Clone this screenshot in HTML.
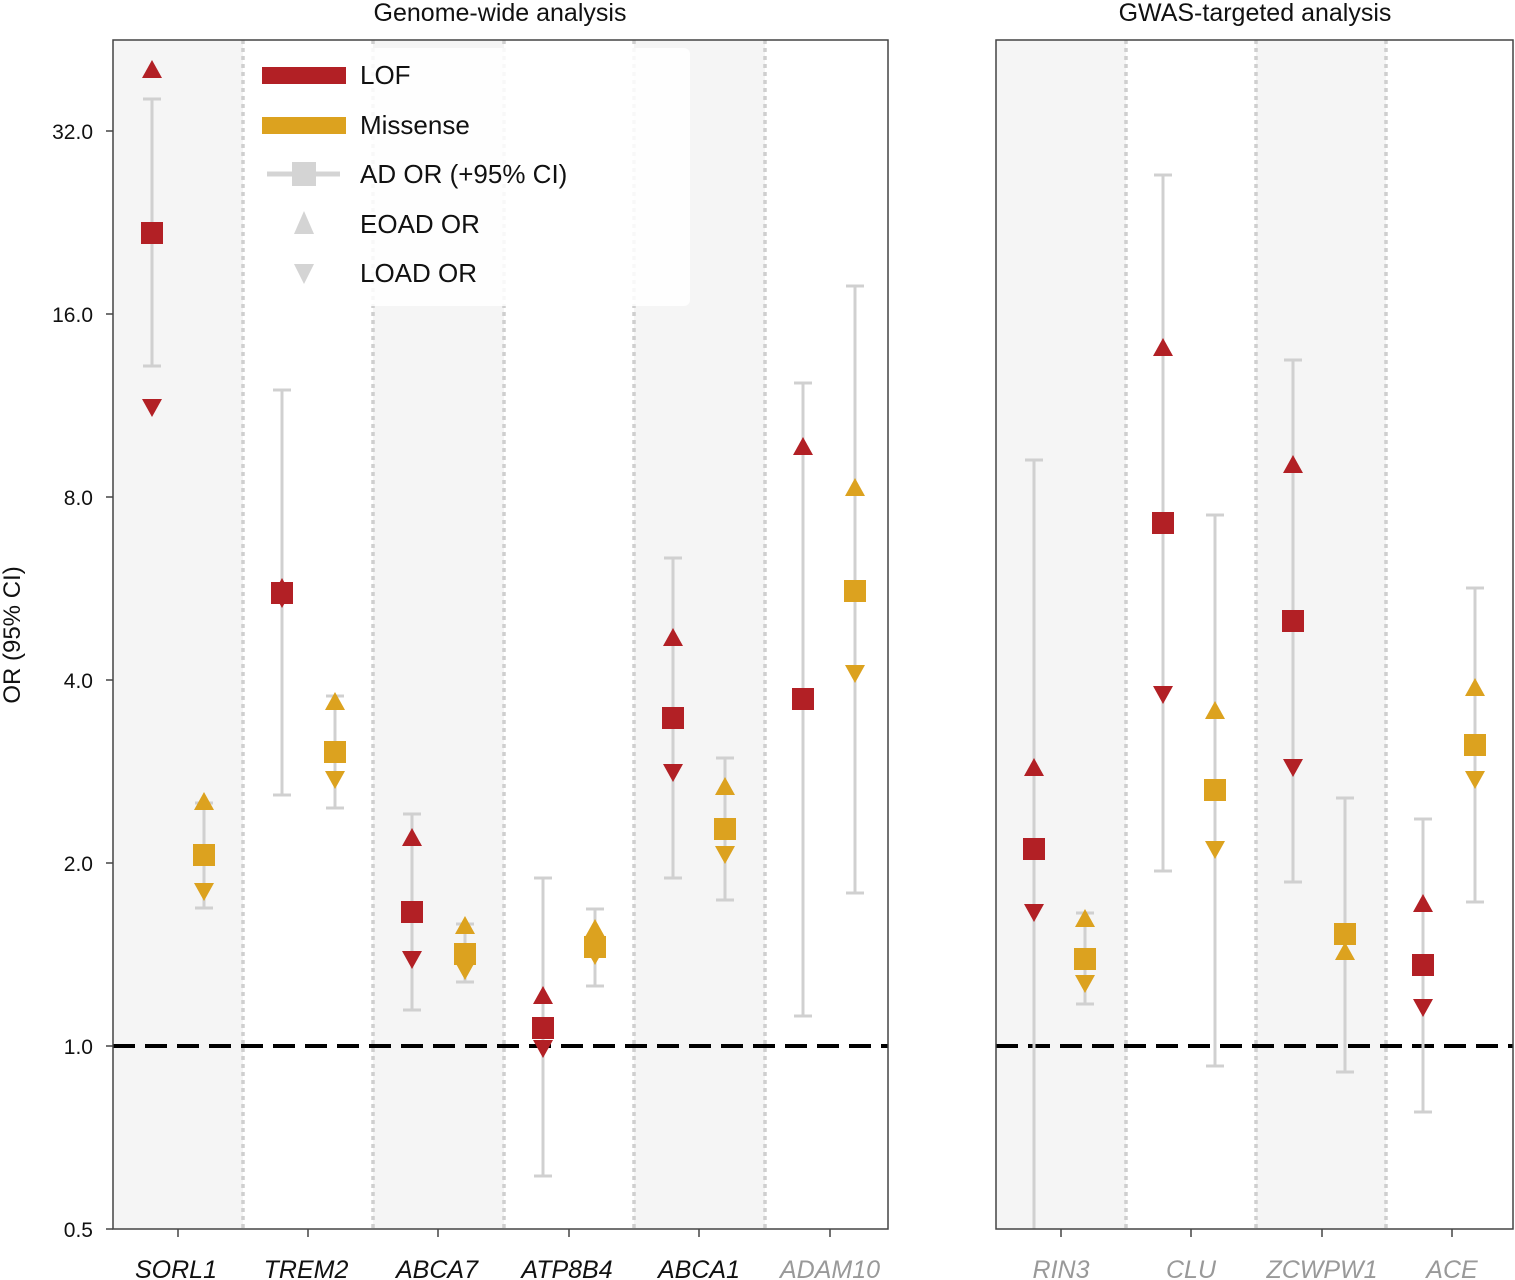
<!DOCTYPE html>
<html><head><meta charset="utf-8"><style>
html,body{margin:0;padding:0;background:#fff;}
svg{display:block;font-family:"Liberation Sans",sans-serif;}
</style></head><body>
<svg width="1515" height="1280" viewBox="0 0 1515 1280">
<rect x="113" y="40" width="130" height="1189" fill="#f5f5f5"/>
<rect x="373" y="40" width="131" height="1189" fill="#f5f5f5"/>
<rect x="634" y="40" width="131" height="1189" fill="#f5f5f5"/>
<rect x="996" y="40" width="130" height="1189" fill="#f5f5f5"/>
<rect x="1256" y="40" width="130" height="1189" fill="#f5f5f5"/>
<g stroke="#cfcfcf" stroke-width="3.5" stroke-dasharray="4 4">
<line x1="243" y1="40" x2="243" y2="1229"/><line x1="373" y1="40" x2="373" y2="1229"/>
<line x1="504" y1="40" x2="504" y2="1229"/><line x1="634" y1="40" x2="634" y2="1229"/>
<line x1="765" y1="40" x2="765" y2="1229"/>
<line x1="1126" y1="40" x2="1126" y2="1229"/><line x1="1256" y1="40" x2="1256" y2="1229"/>
<line x1="1386" y1="40" x2="1386" y2="1229"/>
</g>
<line x1="113" y1="1046" x2="888" y2="1046" stroke="#000" stroke-width="4" stroke-dasharray="22 10"/>
<line x1="996" y1="1046" x2="1513" y2="1046" stroke="#000" stroke-width="4" stroke-dasharray="22 10"/>
<g id="data"></g>
<rect x="250" y="48" width="440" height="258" rx="6" fill="#fff" fill-opacity="0.85"/>
<rect x="262" y="67" width="84" height="17" fill="#b22025"/>
<rect x="262" y="117" width="84" height="17" fill="#dca21f"/>
<line x1="267" y1="174" x2="340" y2="174" stroke="#d4d4d4" stroke-width="5"/>
<rect x="292" y="162" width="24" height="24" fill="#d4d4d4"/>
<polygon points="304,211 314,234 294,234" fill="#d4d4d4"/>
<polygon points="304,284 314,264 294,264" fill="#d4d4d4"/>
<g font-size="26" fill="#111">
<text x="360" y="84">LOF</text><text x="360" y="134">Missense</text>
<text x="360" y="183">AD OR (+95% CI)</text><text x="360" y="233">EOAD OR</text>
<text x="360" y="282">LOAD OR</text>
</g>
<rect x="113" y="40" width="775" height="1189" fill="none" stroke="#444" stroke-width="1.5"/>
<rect x="996" y="40" width="517" height="1189" fill="none" stroke="#444" stroke-width="1.5"/>
<g stroke="#444" stroke-width="1.5">
<line x1="106" y1="131" x2="113" y2="131"/><line x1="106" y1="314" x2="113" y2="314"/>
<line x1="106" y1="497" x2="113" y2="497"/><line x1="106" y1="680" x2="113" y2="680"/>
<line x1="106" y1="863" x2="113" y2="863"/><line x1="106" y1="1046" x2="113" y2="1046"/>
<line x1="106" y1="1229" x2="113" y2="1229"/>
<line x1="178" y1="1229" x2="178" y2="1237"/><line x1="308" y1="1229" x2="308" y2="1237"/>
<line x1="438" y1="1229" x2="438" y2="1237"/><line x1="569" y1="1229" x2="569" y2="1237"/>
<line x1="699" y1="1229" x2="699" y2="1237"/><line x1="830" y1="1229" x2="830" y2="1237"/>
<line x1="1061" y1="1229" x2="1061" y2="1237"/><line x1="1191" y1="1229" x2="1191" y2="1237"/>
<line x1="1322" y1="1229" x2="1322" y2="1237"/><line x1="1452" y1="1229" x2="1452" y2="1237"/>
</g>
<g font-size="21" fill="#111" text-anchor="end">
<text x="93" y="139">32.0</text><text x="93" y="322">16.0</text><text x="93" y="505">8.0</text>
<text x="93" y="688">4.0</text><text x="93" y="871">2.0</text><text x="93" y="1054">1.0</text>
<text x="93" y="1237">0.5</text>
</g>
<text transform="translate(20,635) rotate(-90)" font-size="24" text-anchor="middle" fill="#111">OR (95% CI)</text>
<g font-size="25" text-anchor="middle" fill="#111">
<text x="500" y="21">Genome-wide analysis</text><text x="1255" y="21">GWAS-targeted analysis</text>
</g>
<g font-size="25" font-style="italic" text-anchor="middle" fill="#111">
<text x="176" y="1278">SORL1</text><text x="306" y="1278">TREM2</text><text x="437" y="1278">ABCA7</text>
<text x="567" y="1278">ATP8B4</text><text x="699" y="1278">ABCA1</text>
<text x="830" y="1278" fill="#999">ADAM10</text>
<text x="1061" y="1278" fill="#999">RIN3</text><text x="1191" y="1278" fill="#999">CLU</text>
<text x="1322" y="1278" fill="#999">ZCWPW1</text><text x="1452" y="1278" fill="#999">ACE</text>
</g>
</svg>
<script>
var d=[
[152,233,99,366,70,407,'r'],[204,855,803,908,802,891,'g'],
[282,593,390,795,588,598,'r'],[335,752,696,808,702,779,'g'],
[412,912,814,1010,838,959,'r'],[465,954,924,982,926,970,'g'],
[543,1028,878,1176,996,1048,'r'],[595,947,909,986,929,955,'g'],
[673,718,558,878,638,772,'r'],[725,829,758,900,787,854,'g'],
[803,699,383,1016,447,null,'r'],[855,591,286,893,488,673,'g'],
[1034,849,460,1229,768,912,'r'],[1085,959,913,1004,919,983,'g'],
[1163,523,175,871,348,694,'r'],[1215,790,515,1066,711,849,'g'],
[1293,621,360,882,465,767,'r'],[1345,934,798,1072,952,null,'g'],
[1423,965,819,1112,904,1007,'r'],[1475,745,588,902,688,779,'g']];
var s='';
d.forEach(function(p){var x=p[0],c=p[6]=='r'?'#b22025':'#dca21f';
s+='<line x1="'+x+'" y1="'+p[2]+'" x2="'+x+'" y2="'+p[3]+'" stroke="#d0d0d0" stroke-width="3"/>';
s+='<line x1="'+(x-9)+'" y1="'+p[2]+'" x2="'+(x+9)+'" y2="'+p[2]+'" stroke="#d0d0d0" stroke-width="3"/>';
if(p[3]<1229)s+='<line x1="'+(x-9)+'" y1="'+p[3]+'" x2="'+(x+9)+'" y2="'+p[3]+'" stroke="#d0d0d0" stroke-width="3"/>';
s+='<rect x="'+(x-11)+'" y="'+(p[1]-11)+'" width="22" height="22" fill="'+c+'"/>';
if(p[4]!=null)s+='<polygon points="'+x+','+(p[4]-10)+' '+(x+10)+','+(p[4]+8)+' '+(x-10)+','+(p[4]+8)+'" fill="'+c+'"/>';
if(p[5]!=null)s+='<polygon points="'+x+','+(p[5]+10)+' '+(x+10)+','+(p[5]-8)+' '+(x-10)+','+(p[5]-8)+'" fill="'+c+'"/>';
});
document.getElementById('data').innerHTML=s;
</script>
</body></html>
